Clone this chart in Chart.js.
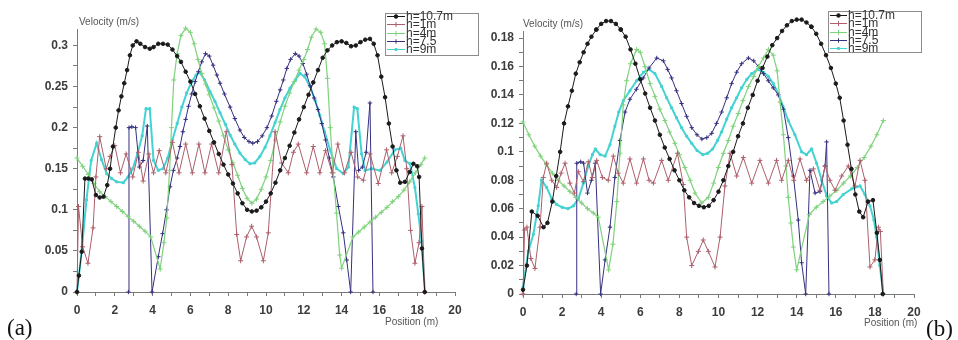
<!DOCTYPE html>
<html>
<head>
<meta charset="utf-8">
<title>Velocity profiles (a) / (b)</title>
<script src="https://cdn.jsdelivr.net/npm/chart.js@4.4.1/dist/chart.umd.min.js"></script>
<style>
    html, body { margin: 0; padding: 0; background: #fff; }
    #wrap { position: relative; width: 958px; height: 340px; overflow: hidden; }
    #wrap canvas { position: absolute; top: 0; }
    #chartA { left: 0; }
    #chartB { left: 478px; }
    .tag { position: absolute; font-family: "Liberation Serif", "Times New Roman", serif; font-size: 23px; line-height: 1; color: #111; }
    #tagA { left: 7px; top: 316px; }
    #tagB { left: 926px; top: 317px; }
</style>
</head>
<body>
<div id="wrap">
    <canvas id="chartA" width="480" height="340"></canvas>
    <canvas id="chartB" width="480" height="340"></canvas>
    <div class="tag" id="tagA">(a)</div>
    <div class="tag" id="tagB">(b)</div>
</div>
<script>
/* ---- axis ticks ---- */
var xTicks = [0, 1, 2, 3, 4, 5, 6, 7, 8, 9, 10, 11, 12, 13, 14, 15, 16, 17, 18, 19, 20];
var xTickLabels = ['0', '', '2', '', '4', '', '6', '', '8', '', '10', '', '12', '', '14', '', '16', '', '18', '', '20'];
var yTicksA = [0, 0.025, 0.05, 0.075, 0.1, 0.125, 0.15, 0.175, 0.2, 0.225, 0.25, 0.275, 0.3];
var yTickLabelsA = ['0', '', '0.05', '', '0.1', '', '0.15', '', '0.2', '', '0.25', '', '0.3'];
var yTicksB = [0, 0.01, 0.02, 0.03, 0.04, 0.05, 0.06, 0.07, 0.08, 0.09, 0.1, 0.11, 0.12, 0.13, 0.14, 0.15, 0.16, 0.17, 0.18];
var yTickLabelsB = ['0', '', '0.02', '', '0.04', '', '0.06', '', '0.08', '', '0.1', '', '0.12', '', '0.14', '', '0.16', '', '0.18'];

var seriesNames = ['h=10.7m', 'h=1m', 'h=4m', 'h=7.5', 'h=9m'];

/* ---- panel (a): [position m, velocity m/s] ---- */
var a_h107 = [[0,0.0],[0.1,0.02],[0.25,0.049],[0.42,0.138],[0.6,0.138],[0.78,0.137],[1.0,0.118],[1.2,0.115],[1.4,0.116],[1.6,0.13],[1.75,0.15],[1.9,0.177],[2.05,0.2],[2.2,0.221],[2.35,0.238],[2.5,0.254],[2.65,0.27],[2.8,0.288],[2.95,0.3],[3.15,0.305],[3.35,0.302],[3.6,0.298],[3.85,0.296],[4.05,0.298],[4.3,0.302],[4.55,0.302],[4.8,0.301],[5.05,0.295],[5.3,0.287],[5.5,0.28],[5.75,0.268],[6.0,0.256],[6.25,0.241],[6.5,0.226],[6.75,0.211],[7.0,0.196],[7.25,0.182],[7.5,0.168],[7.75,0.155],[8.0,0.143],[8.25,0.132],[8.5,0.12],[8.75,0.108],[9.0,0.1],[9.25,0.098],[9.5,0.099],[9.75,0.103],[10.0,0.11],[10.25,0.12],[10.5,0.133],[10.75,0.148],[11.0,0.163],[11.25,0.178],[11.5,0.194],[11.75,0.21],[12.0,0.225],[12.25,0.24],[12.5,0.255],[12.75,0.27],[13.0,0.285],[13.25,0.294],[13.5,0.3],[13.75,0.304],[14.0,0.305],[14.25,0.303],[14.5,0.299],[14.75,0.3],[15.0,0.304],[15.25,0.307],[15.5,0.308],[15.7,0.302],[15.9,0.288],[16.1,0.262],[16.3,0.237],[16.5,0.205],[16.7,0.177],[16.9,0.148],[17.1,0.133],[17.35,0.134],[17.6,0.146],[17.8,0.156],[18.0,0.153],[18.1,0.14],[18.25,0.053],[18.4,0.0]];
var a_h1 = [[0,0.0],[0.08,0.104],[0.3,0.055],[0.58,0.035],[0.85,0.078],[1.0,0.14],[1.2,0.189],[1.55,0.15],[1.75,0.165],[2.0,0.178],[2.3,0.145],[2.6,0.168],[2.95,0.14],[3.25,0.17],[3.5,0.135],[3.8,0.168],[4.05,0.145],[4.35,0.172],[4.7,0.145],[5.05,0.182],[5.4,0.145],[5.75,0.18],[6.1,0.145],[6.45,0.18],[6.77,0.145],[7.12,0.18],[7.5,0.145],[7.9,0.195],[8.2,0.155],[8.45,0.07],[8.66,0.038],[8.97,0.067],[9.24,0.08],[9.5,0.067],[9.86,0.038],[10.12,0.072],[10.48,0.195],[10.83,0.157],[11.18,0.145],[11.45,0.17],[11.71,0.18],[12.15,0.145],[12.5,0.177],[12.85,0.145],[13.15,0.172],[13.5,0.145],[13.8,0.18],[14.15,0.145],[14.5,0.17],[14.85,0.14],[15.15,0.136],[15.5,0.168],[15.94,0.132],[16.38,0.173],[16.65,0.145],[16.95,0.165],[17.25,0.19],[17.45,0.15],[17.65,0.075],[17.88,0.035],[18.1,0.06],[18.25,0.104],[18.4,0.0]];
var a_h4 = [[0,0.163],[0.3,0.153],[0.6,0.143],[0.9,0.132],[1.2,0.122],[1.5,0.116],[1.8,0.11],[2.1,0.104],[2.4,0.098],[2.7,0.092],[3.0,0.086],[3.3,0.08],[3.6,0.074],[3.9,0.067],[4.4,0.028],[4.6,0.06],[4.75,0.09],[4.9,0.148],[5.0,0.2],[5.12,0.258],[5.3,0.29],[5.5,0.312],[5.75,0.321],[6.0,0.316],[6.2,0.302],[6.4,0.283],[6.6,0.266],[6.8,0.253],[7.0,0.24],[7.25,0.224],[7.5,0.208],[7.75,0.19],[8.0,0.173],[8.25,0.157],[8.5,0.142],[8.75,0.126],[9.0,0.114],[9.25,0.108],[9.5,0.113],[9.75,0.125],[10.0,0.14],[10.25,0.16],[10.5,0.185],[10.75,0.207],[11.0,0.226],[11.25,0.242],[11.5,0.256],[11.75,0.27],[12.0,0.283],[12.2,0.295],[12.4,0.31],[12.65,0.32],[12.9,0.316],[13.1,0.302],[13.25,0.26],[13.4,0.2],[13.56,0.145],[13.73,0.096],[13.9,0.045],[14.0,0.029],[14.6,0.067],[14.9,0.073],[15.2,0.079],[15.5,0.085],[15.8,0.091],[16.1,0.097],[16.4,0.103],[16.7,0.11],[17.0,0.116],[17.3,0.124],[17.6,0.134],[17.9,0.145],[18.2,0.155],[18.4,0.163]];
var a_h75 = [[2.72,0.0],[2.75,0.2],[2.9,0.201],[3.1,0.2],[3.3,0.152],[3.5,0.16],[3.72,0.202],[3.97,0.0],[4.3,0.043],[4.53,0.071],[4.74,0.1],[4.92,0.128],[5.1,0.148],[5.3,0.163],[5.45,0.177],[5.6,0.195],[5.75,0.21],[5.9,0.226],[6.07,0.241],[6.25,0.256],[6.42,0.268],[6.6,0.28],[6.8,0.29],[7.0,0.287],[7.2,0.276],[7.4,0.264],[7.57,0.254],[7.8,0.241],[8.1,0.225],[8.35,0.211],[8.62,0.197],[8.85,0.188],[9.1,0.183],[9.3,0.181],[9.55,0.183],[9.8,0.19],[10.05,0.2],[10.3,0.214],[10.55,0.232],[10.75,0.246],[10.92,0.258],[11.1,0.272],[11.3,0.283],[11.55,0.29],[11.75,0.287],[11.95,0.278],[12.15,0.265],[12.33,0.251],[12.55,0.236],[12.75,0.222],[12.95,0.205],[13.15,0.185],[13.35,0.163],[13.56,0.14],[13.83,0.104],[14.09,0.072],[14.27,0.039],[14.48,0.0],[14.75,0.195],[14.9,0.148],[15.1,0.152],[15.3,0.17],[15.5,0.23],[15.66,0.0]];
var a_h9 = [[0,0.0],[0.25,0.05],[0.5,0.112],[0.75,0.16],[1.04,0.181],[1.3,0.161],[1.57,0.144],[1.83,0.138],[2.1,0.134],[2.45,0.133],[2.7,0.14],[2.95,0.15],[3.2,0.168],[3.45,0.19],[3.65,0.223],[3.85,0.223],[4.05,0.16],[4.3,0.148],[4.55,0.15],[4.8,0.163],[5.05,0.185],[5.3,0.205],[5.55,0.225],[5.8,0.242],[6.05,0.255],[6.3,0.264],[6.5,0.267],[6.75,0.258],[7.04,0.244],[7.3,0.232],[7.57,0.218],[7.85,0.204],[8.1,0.191],[8.35,0.18],[8.62,0.169],[8.9,0.161],[9.15,0.156],[9.4,0.157],[9.68,0.165],[9.95,0.176],[10.21,0.19],[10.48,0.206],[10.74,0.222],[11.0,0.236],[11.27,0.248],[11.55,0.258],[11.8,0.266],[12.05,0.262],[12.33,0.25],[12.6,0.233],[12.85,0.215],[13.1,0.195],[13.39,0.173],[13.74,0.15],[14.09,0.144],[14.36,0.152],[14.66,0.225],[14.83,0.223],[15.06,0.168],[15.24,0.148],[15.59,0.15],[16.03,0.148],[16.4,0.158],[16.82,0.173],[17.13,0.175],[17.35,0.16],[17.62,0.156],[17.88,0.127],[18.06,0.095],[18.23,0.062],[18.41,0.0]];

/* ---- panel (b) ---- */
var b_h107 = [[0,0.003],[0.2,0.02],[0.45,0.058],[0.75,0.055],[1.05,0.047],[1.25,0.05],[1.5,0.065],[1.7,0.083],[1.9,0.1],[2.1,0.12],[2.3,0.132],[2.5,0.143],[2.7,0.155],[2.9,0.163],[3.1,0.17],[3.3,0.176],[3.5,0.181],[3.75,0.186],[4.0,0.19],[4.25,0.192],[4.5,0.192],[4.75,0.19],[5.0,0.186],[5.25,0.181],[5.5,0.172],[5.75,0.162],[6.0,0.151],[6.25,0.141],[6.5,0.131],[6.75,0.122],[7.0,0.112],[7.25,0.103],[7.5,0.095],[7.75,0.087],[8.0,0.08],[8.25,0.073],[8.5,0.068],[8.75,0.064],[9.0,0.062],[9.25,0.061],[9.5,0.062],[9.75,0.066],[10.0,0.072],[10.25,0.08],[10.5,0.09],[10.75,0.1],[11.0,0.111],[11.25,0.12],[11.5,0.131],[11.75,0.14],[12.0,0.15],[12.25,0.159],[12.5,0.167],[12.75,0.175],[13.0,0.18],[13.25,0.185],[13.5,0.189],[13.75,0.192],[14.0,0.193],[14.25,0.193],[14.5,0.191],[14.75,0.188],[15.0,0.183],[15.25,0.176],[15.5,0.168],[15.75,0.159],[16.0,0.148],[16.2,0.138],[16.4,0.122],[16.6,0.105],[16.8,0.088],[17.0,0.07],[17.2,0.058],[17.4,0.054],[17.65,0.065],[17.9,0.066],[18.1,0.043],[18.25,0.024],[18.4,0.0]];
var b_h1 = [[0,0.0],[0.08,0.045],[0.2,0.047],[0.4,0.025],[0.61,0.018],[0.87,0.047],[1.04,0.082],[1.21,0.092],[1.47,0.08],[1.72,0.075],[1.95,0.085],[2.15,0.092],[2.4,0.078],[2.63,0.071],[2.83,0.086],[3.09,0.079],[3.34,0.093],[3.55,0.082],[3.77,0.094],[4.06,0.082],[4.36,0.08],[4.62,0.097],[4.87,0.085],[5.13,0.078],[5.47,0.095],[5.81,0.078],[6.16,0.095],[6.45,0.08],[6.67,0.078],[7.09,0.094],[7.43,0.08],[7.9,0.099],[8.2,0.077],[8.37,0.04],[8.63,0.02],[8.97,0.03],[9.22,0.038],[9.48,0.03],[9.82,0.019],[10.08,0.04],[10.33,0.076],[10.59,0.099],[10.93,0.083],[11.27,0.096],[11.7,0.078],[12.12,0.094],[12.55,0.078],[12.97,0.094],[13.23,0.08],[13.57,0.094],[13.85,0.08],[14.17,0.095],[14.5,0.08],[14.85,0.088],[15.19,0.073],[15.45,0.09],[15.7,0.08],[15.96,0.073],[16.3,0.083],[16.64,0.09],[16.98,0.076],[17.24,0.094],[17.49,0.08],[17.75,0.019],[18.0,0.024],[18.18,0.047],[18.28,0.044],[18.43,0.0]];
var b_h4 = [[0,0.121],[0.3,0.112],[0.6,0.104],[0.9,0.097],[1.2,0.091],[1.5,0.085],[1.8,0.08],[2.1,0.076],[2.4,0.072],[2.7,0.068],[3.0,0.064],[3.3,0.06],[3.6,0.057],[3.85,0.054],[4.38,0.017],[4.6,0.035],[4.8,0.065],[4.96,0.099],[5.13,0.133],[5.3,0.15],[5.5,0.162],[5.81,0.172],[6.0,0.17],[6.24,0.16],[6.5,0.148],[6.75,0.139],[7.0,0.13],[7.26,0.122],[7.5,0.114],[7.77,0.106],[8.0,0.098],[8.28,0.089],[8.55,0.08],[8.8,0.071],[9.14,0.064],[9.48,0.068],[9.75,0.078],[9.99,0.089],[10.25,0.099],[10.5,0.108],[10.75,0.118],[11.01,0.127],[11.25,0.136],[11.53,0.146],[11.8,0.153],[12.04,0.16],[12.3,0.166],[12.55,0.172],[12.8,0.168],[13.0,0.157],[13.15,0.135],[13.32,0.112],[13.45,0.09],[13.57,0.068],[13.7,0.05],[13.83,0.033],[14.0,0.017],[14.65,0.056],[15.0,0.061],[15.35,0.065],[15.7,0.069],[16.05,0.073],[16.4,0.078],[16.75,0.083],[17.1,0.089],[17.45,0.096],[17.8,0.104],[18.1,0.112],[18.43,0.122]];
var b_h75 = [[2.72,0.0],[2.75,0.092],[2.95,0.093],[3.1,0.092],[3.3,0.071],[3.5,0.08],[3.7,0.092],[3.97,0.0],[4.2,0.024],[4.45,0.047],[4.7,0.082],[4.96,0.108],[5.22,0.128],[5.47,0.137],[5.8,0.144],[6.15,0.152],[6.45,0.159],[6.84,0.166],[7.18,0.164],[7.4,0.158],[7.6,0.152],[7.85,0.143],[8.11,0.134],[8.37,0.125],[8.63,0.117],[8.9,0.112],[9.15,0.109],[9.4,0.11],[9.65,0.113],[9.9,0.12],[10.16,0.128],[10.42,0.138],[10.67,0.148],[10.93,0.156],[11.18,0.162],[11.53,0.166],[11.8,0.164],[12.04,0.16],[12.3,0.155],[12.55,0.15],[12.8,0.145],[13.06,0.14],[13.32,0.13],[13.57,0.11],[13.83,0.083],[14.08,0.052],[14.25,0.022],[14.46,0.0],[14.68,0.087],[14.94,0.071],[15.19,0.072],[15.45,0.09],[15.53,0.107],[15.65,0.0]];
var b_h9 = [[0,0.005],[0.27,0.03],[0.53,0.042],[0.78,0.062],[0.95,0.08],[1.21,0.075],[1.47,0.067],[1.72,0.063],[2.0,0.061],[2.3,0.06],[2.58,0.062],[2.83,0.067],[3.09,0.078],[3.34,0.09],[3.55,0.098],[3.7,0.102],[3.95,0.098],[4.2,0.097],[4.45,0.105],[4.7,0.118],[4.9,0.128],[5.13,0.136],[5.47,0.143],[5.81,0.15],[6.16,0.156],[6.45,0.158],[6.75,0.155],[7.09,0.146],[7.35,0.138],[7.6,0.131],[7.85,0.124],[8.11,0.117],[8.37,0.111],[8.63,0.106],[8.9,0.101],[9.2,0.098],[9.45,0.099],[9.7,0.102],[9.95,0.108],[10.16,0.114],[10.42,0.123],[10.67,0.131],[10.93,0.138],[11.18,0.145],[11.45,0.151],[11.7,0.155],[12.0,0.158],[12.3,0.156],[12.55,0.153],[12.8,0.148],[13.06,0.141],[13.3,0.132],[13.57,0.122],[13.91,0.112],[14.25,0.1],[14.5,0.098],[14.76,0.102],[15.02,0.092],[15.28,0.08],[15.53,0.069],[15.79,0.064],[16.04,0.065],[16.38,0.07],[16.81,0.074],[17.24,0.076],[17.49,0.07],[17.75,0.062],[17.95,0.052],[18.09,0.04],[18.25,0.02],[18.43,0.0]];

(function() {
    'use strict';

    var FONT = '"Liberation Sans", Arial, sans-serif';
    var AXIS_COLOR = '#7a7a7a';

    /* line look for each height, same order as seriesNames */
    var looks = [
        { color: '#1a1a1a', width: 1, style: 'circle', radius: 1.8 },
        { color: '#ad5f6b', width: 1, style: 'cross', radius: 2.5 },
        { color: '#7fd27c', width: 1.2, style: 'cross', radius: 2.5 },
        { color: '#35307f', width: 1, style: 'cross', radius: 2.2 },
        { color: '#45d2d2', width: 2, style: 'rect', radius: 1.4 }
    ];

    function makeDatasets(list) {
        return list.map(function(pts, i) {
            var lk = looks[i];
            return {
                label: seriesNames[i],
                data: pts,
                borderColor: lk.color,
                backgroundColor: lk.color,
                borderWidth: lk.width,
                pointStyle: lk.style,
                pointRadius: lk.radius,
                pointBackgroundColor: lk.color,
                pointBorderColor: lk.color,
                pointBorderWidth: 1,
                fill: false,
                tension: 0,
                clip: false   // (b) black peaks run above the axis top, as in the source
            };
        });
    }

    /* Chart.js skips point markers outside chartArea; redraw those that sit above the axis top */
    var overTopPoints = {
        id: 'overTopPoints',
        afterDatasetsDraw: function(chart) {
            var top = chart.chartArea.top;
            chart.getSortedVisibleDatasetMetas().forEach(function(meta) {
                meta.data.forEach(function(el) {
                    if (el.y < top - 1) el.draw(chart.ctx);
                });
            });
        }
    };

    /* ---- axis titles + boxed legend, drawn after the chart ---- */
    var overlayText = {
        id: 'overlayText',
        afterDraw: function(chart, args, o) {
            var ctx = chart.ctx;
            var area = chart.chartArea;
            ctx.save();
            ctx.font = '10px ' + FONT;
            ctx.fillStyle = '#555';
            ctx.textBaseline = 'middle';
            ctx.textAlign = 'left';
            ctx.fillText('Velocity (m/s)', area.left + o.yTitleX, area.top + o.yTitleY);
            ctx.fillText('Position (m)', area.right + o.xTitleX, area.bottom + o.xTitleY);

            var lg = o.legend;
            ctx.fillStyle = '#fff';
            ctx.fillRect(lg.x, lg.y, lg.w, lg.h);
            ctx.strokeStyle = '#8c8c8c';
            ctx.lineWidth = 1;
            ctx.strokeRect(lg.x + 0.5, lg.y + 0.5, lg.w, lg.h);
            ctx.font = '12px ' + FONT;
            chart.data.datasets.forEach(function(ds, i) {
                var y = Math.round(lg.y + lg.rowTop + i * lg.rowStep) + 0.5;
                ctx.strokeStyle = ds.borderColor;
                ctx.lineWidth = 1;
                ctx.beginPath();
                ctx.moveTo(lg.x + 2, y);
                ctx.lineTo(lg.x + lg.sample, y);
                ctx.stroke();
                ctx.fillStyle = ds.pointBackgroundColor;
                ctx.strokeStyle = ds.pointBorderColor;
                Chart.helpers.drawPoint(ctx, {
                    pointStyle: ds.pointStyle, radius: ds.pointRadius, borderWidth: 1, rotation: 0
                }, lg.x + lg.sample / 2 + 1, y);
                ctx.fillStyle = '#333';
                ctx.fillText(ds.label, lg.x + lg.sample + 1, y);
            });
            ctx.restore();
        }
    };

    function makeChart(canvasId, list, yMax, yTicks, yLabels, frame, overlay) {
        var canvas = document.getElementById(canvasId);
        var tickFont = { size: 12, weight: 'bold', family: FONT };
        return new Chart(canvas, {
            type: 'line',
            data: { datasets: makeDatasets(list) },
            options: {
                responsive: false,
                animation: false,
                devicePixelRatio: 1,
                layout: { padding: { top: frame.top, right: canvas.width - frame.right, bottom: 0, left: 0 } },
                plugins: {
                    legend: { display: false },
                    tooltip: { enabled: false },
                    overlayText: overlay
                },
                scales: {
                    x: {
                        type: 'linear',
                        min: 0,
                        max: 20,
                        afterBuildTicks: function(s) {
                            s.ticks = xTicks.map(function(v) { return { value: v }; });
                        },
                        afterFit: function(s) { s.height = canvas.height - frame.bottom; },
                        grid: { drawOnChartArea: false, drawTicks: true, tickLength: 4, color: AXIS_COLOR },
                        border: { color: AXIS_COLOR, width: 1 },
                        ticks: {
                            autoSkip: false,
                            maxRotation: 0,
                            padding: 7,
                            color: '#3c3c3c',
                            font: tickFont,
                            callback: function(v, i) { return xTickLabels[i]; }
                        }
                    },
                    y: {
                        type: 'linear',
                        min: 0,
                        max: yMax,
                        afterBuildTicks: function(s) {
                            s.ticks = yTicks.map(function(v) { return { value: v }; });
                        },
                        afterFit: function(s) { s.width = frame.left; },
                        grid: { drawOnChartArea: false, drawTicks: true, tickLength: 4, color: AXIS_COLOR },
                        border: { color: AXIS_COLOR, width: 1 },
                        ticks: {
                            autoSkip: false,
                            padding: 5,
                            color: '#3c3c3c',
                            font: tickFont,
                            callback: function(v, i) { return yLabels[i]; }
                        }
                    }
                }
            },
            plugins: [overTopPoints, overlayText]
        });
    }

    /* panel (a) */
    makeChart('chartA', [a_h107, a_h1, a_h4, a_h75, a_h9], 0.32, yTicksA, yTickLabelsA,
        { left: 77, right: 455, top: 29, bottom: 292 },
        {
            yTitleX: 2, yTitleY: -7, xTitleX: -70, xTitleY: 30,
            legend: { x: 385, y: 13, w: 93, h: 42, rowTop: 3, rowStep: 8.3, sample: 20 }
        });

    /* panel (b) */
    makeChart('chartB', [b_h107, b_h1, b_h4, b_h75, b_h9], 0.185, yTicksB, yTickLabelsB,
        { left: 45, right: 436, top: 31, bottom: 294 },
        {
            yTitleX: 0, yTitleY: -7, xTitleX: -50, xTitleY: 29,
            legend: { x: 350, y: 11, w: 93, h: 41, rowTop: 4, rowStep: 8.3, sample: 19 }
        });
})();
</script>
</body>
</html>
